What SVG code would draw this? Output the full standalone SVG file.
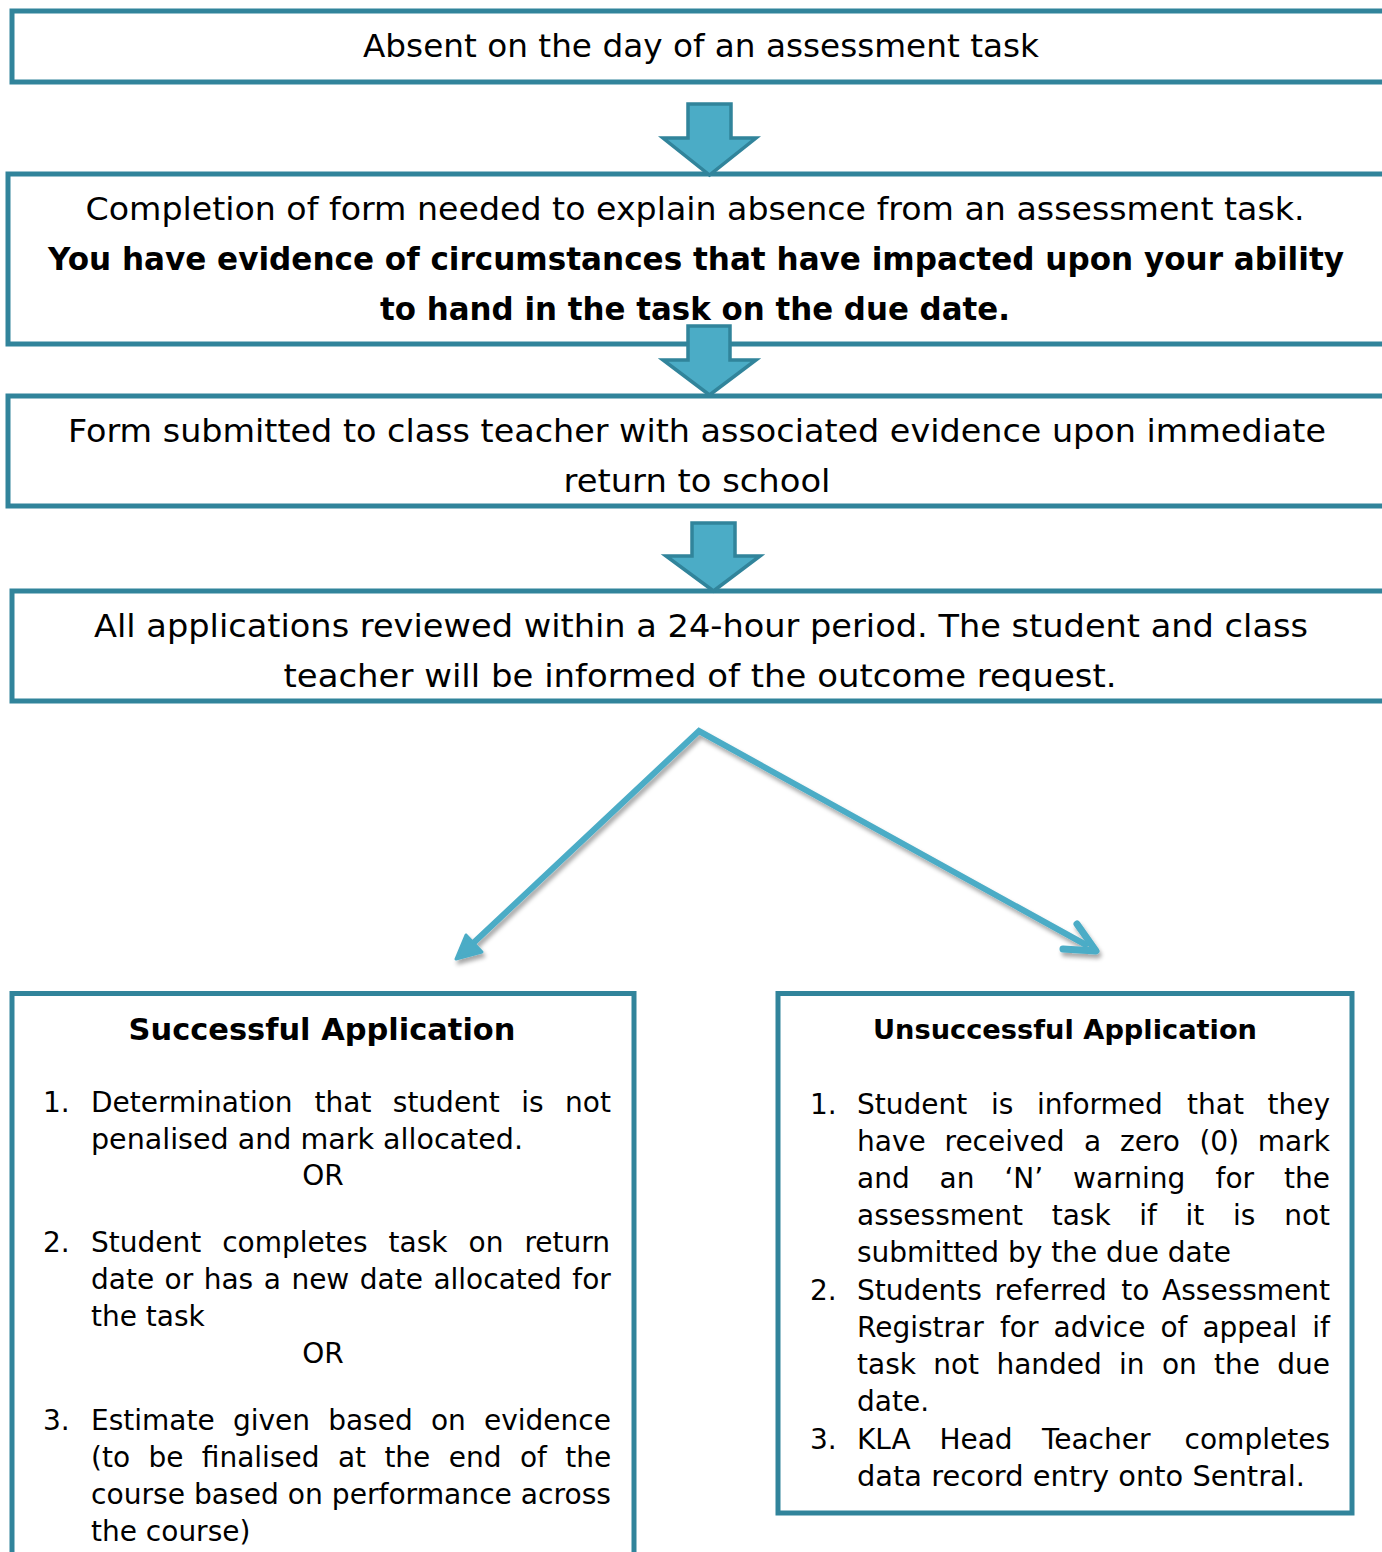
<svg xmlns="http://www.w3.org/2000/svg" width="1382" height="1552" viewBox="0 0 1382 1552">
<style>
.box{fill:#fff;stroke:#31849B;stroke-width:5}
.blk{fill:#4BACC6;stroke:#31849B;stroke-width:3.5;stroke-linejoin:miter}
.t{font-family:'DejaVu Sans','Liberation Sans',sans-serif;fill:#000}
.big{font-size:32px}
.li{font-size:28px}
.b{font-weight:bold}
.mid{text-anchor:middle}
.con{fill:none;stroke:#4BACC6;stroke-width:6}
</style>
<defs>
<filter id="sh" x="-20%" y="-20%" width="140%" height="140%">
<feDropShadow dx="2" dy="4" stdDeviation="2" flood-color="#000" flood-opacity="0.35"/>
</filter>
<clipPath id="c4"><rect x="0" y="590" width="1382" height="101"/></clipPath>
</defs>
<rect width="1382" height="1552" fill="#fff"/>

<g id="node-absent">
<path class="box" d="M1390,11 H12 V82 H1390"/>
<text class="t big" x="701" y="57" text-anchor="middle" textLength="676" lengthAdjust="spacingAndGlyphs">Absent on the day of an assessment task</text>
</g>

<g id="node-form">
<path class="box" d="M1390,174 H8 V344 H1390"/>
<text class="t big" x="695" y="220" text-anchor="middle" textLength="1219" lengthAdjust="spacingAndGlyphs">Completion of form needed to explain absence from an assessment task.</text>
<text class="t big b" x="696" y="270" text-anchor="middle" textLength="1296" lengthAdjust="spacingAndGlyphs">You have evidence of circumstances that have impacted upon your ability</text>
<text class="t big b" x="695" y="320" text-anchor="middle" textLength="630" lengthAdjust="spacingAndGlyphs">to hand in the task on the due date.</text>
</g>

<g id="node-submitted">
<path class="box" d="M1390,396 H8 V506 H1390"/>
<text class="t big" x="697" y="442" text-anchor="middle" textLength="1258" lengthAdjust="spacingAndGlyphs">Form submitted to class teacher with associated evidence upon immediate</text>
<text class="t big" x="697" y="492" text-anchor="middle" textLength="267" lengthAdjust="spacingAndGlyphs">return to school</text>
</g>

<g id="node-reviewed">
<text class="t big" x="701" y="637" text-anchor="middle" textLength="1214" lengthAdjust="spacingAndGlyphs">All applications reviewed within a 24-hour period. The student and class</text>
<text class="t big" x="700" y="687" text-anchor="middle" textLength="833" lengthAdjust="spacingAndGlyphs" clip-path="url(#c4)">teacher will be informed of the outcome request.</text>
<path class="box" style="fill:none" d="M1390,591 H12 V701 H1390"/>
</g>

<g id="connectors">
<polygon class="blk" points="688,104 731,104 731,138 756,138 709.5,175 663,138 688,138"/>
<polygon class="blk" points="688,326 730,326 730,360 756,360 709.5,395 663,360 688,360"/>
<polygon class="blk" points="692,523 735,523 735,556 760,556 713.5,591 666,556 692,556"/>
<g filter="url(#sh)">
<path class="con" d="M468,948 L699,731 L1088,946"/>
<polygon points="456,959 466,935 482,952" fill="#4BACC6" stroke="#4BACC6" stroke-width="3" stroke-linejoin="round"/>
<path d="M1077,924 L1096,951 L1063,949" fill="none" stroke="#4BACC6" stroke-width="7" stroke-linecap="round" stroke-linejoin="round"/>
</g>
</g>

<g id="node-successful">
<path class="box" d="M12,1560 V993.5 H634 V1560"/>
<text class="t b mid" x="322" y="1040" font-size="31" textLength="387" lengthAdjust="spacingAndGlyphs">Successful Application</text>
<g class="t li">
<text x="43" y="1112">1.</text>
<text y="1112"><tspan x="91">Determination</tspan><tspan x="314.5">that</tspan><tspan x="392.8">student</tspan><tspan x="521.2">is</tspan><tspan x="565">not</tspan></text>
<text x="91" y="1149" textLength="432" lengthAdjust="spacingAndGlyphs">penalised and mark allocated.</text>
<text x="323" y="1185" text-anchor="middle">OR</text>
<text x="43" y="1252">2.</text>
<text y="1252"><tspan x="91">Student</tspan><tspan x="222.2">completes</tspan><tspan x="388.6">task</tspan><tspan x="468.5">on</tspan><tspan x="524.4">return</tspan></text>
<text y="1289"><tspan x="91">date</tspan><tspan x="164.6">or</tspan><tspan x="203.7">has</tspan><tspan x="263.7">a</tspan><tspan x="291.4">new</tspan><tspan x="359.8">date</tspan><tspan x="433.4">allocated</tspan><tspan x="572.3">for</tspan></text>
<text x="91" y="1326">the task</text>
<text x="323" y="1363" text-anchor="middle">OR</text>
<text x="43" y="1430">3.</text>
<text y="1430"><tspan x="91">Estimate</tspan><tspan x="232.9">given</tspan><tspan x="328.2">based</tspan><tspan x="430.9">on</tspan><tspan x="484">evidence</tspan></text>
<text y="1467"><tspan x="91">(to</tspan><tspan x="148.4">be</tspan><tspan x="201.8">finalised</tspan><tspan x="337.9">at</tspan><tspan x="384.4">the</tspan><tspan x="448.7">end</tspan><tspan x="519.9">of</tspan><tspan x="565.3">the</tspan></text>
<text x="91" y="1504" textLength="520" lengthAdjust="spacingAndGlyphs">course based on performance across</text>
<text x="91" y="1541">the course)</text>
</g>
</g>

<g id="node-unsuccessful">
<rect class="box" x="778" y="993.5" width="574" height="519.5"/>
<text class="t b mid" x="1065" y="1039" font-size="27" textLength="384" lengthAdjust="spacingAndGlyphs">Unsuccessful Application</text>
<g class="t li">
<text x="810" y="1114">1.</text>
<text y="1114"><tspan x="857">Student</tspan><tspan x="990.9">is</tspan><tspan x="1037">informed</tspan><tspan x="1187">that</tspan><tspan x="1267.6">they</tspan></text>
<text y="1151"><tspan x="857">have</tspan><tspan x="944.5">received</tspan><tspan x="1084">a</tspan><tspan x="1120">zero</tspan><tspan x="1199.4">(0)</tspan><tspan x="1257.8">mark</tspan></text>
<text y="1188"><tspan x="857">and</tspan><tspan x="939.6">an</tspan><tspan x="1004.4">‘N’</tspan><tspan x="1073.1">warning</tspan><tspan x="1215.6">for</tspan><tspan x="1284">the</tspan></text>
<text y="1225"><tspan x="857">assessment</tspan><tspan x="1051.7">task</tspan><tspan x="1139.3">if</tspan><tspan x="1185.6">it</tspan><tspan x="1233.1">is</tspan><tspan x="1284.2">not</tspan></text>
<text x="857" y="1262">submitted by the due date</text>
<text x="810" y="1300">2.</text>
<text y="1300"><tspan x="857">Students</tspan><tspan x="994.6">referred</tspan><tspan x="1121.2">to</tspan><tspan x="1162.1">Assessment</tspan></text>
<text y="1337"><tspan x="857">Registrar</tspan><tspan x="1000">for</tspan><tspan x="1053.5">advice</tspan><tspan x="1160.4">of</tspan><tspan x="1202.4">appeal</tspan><tspan x="1312.3">if</tspan></text>
<text y="1374"><tspan x="857">task</tspan><tspan x="933.2">not</tspan><tspan x="996.4">handed</tspan><tspan x="1119.1">in</tspan><tspan x="1161.9">on</tspan><tspan x="1214.1">the</tspan><tspan x="1277.3">due</tspan></text>
<text x="857" y="1411">date.</text>
<text x="810" y="1449">3.</text>
<text y="1449"><tspan x="857">KLA</tspan><tspan x="939.4">Head</tspan><tspan x="1041.9">Teacher</tspan><tspan x="1184.6">completes</tspan></text>
<text x="857" y="1486" textLength="448" lengthAdjust="spacingAndGlyphs">data record entry onto Sentral.</text>
</g>
</g>
</svg>
